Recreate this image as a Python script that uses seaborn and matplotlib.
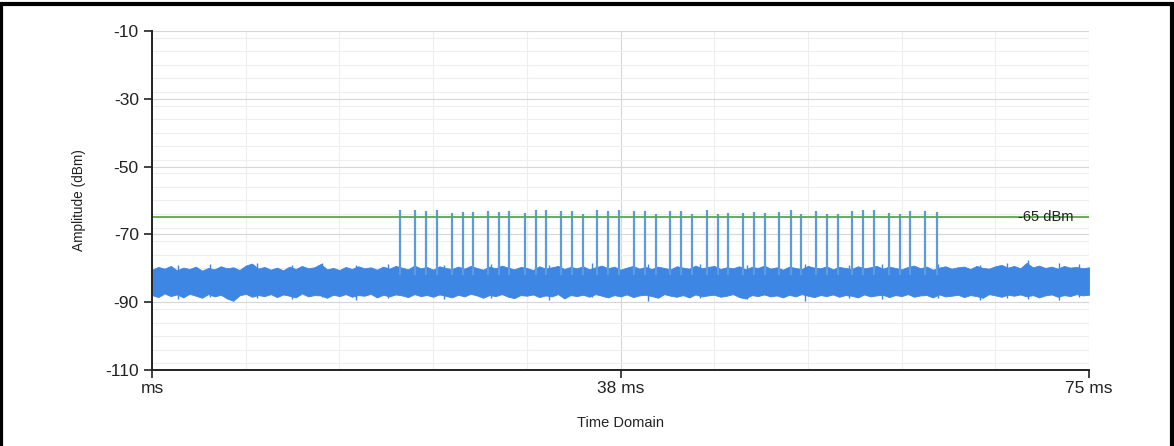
import numpy as np
import pandas as pd
import matplotlib
matplotlib.use('Agg')
import matplotlib.pyplot as plt
from matplotlib.ticker import MultipleLocator
import seaborn as sns

# noise envelope (dBm), read every 0.5 ms from 0 to 75 ms
noise_hi = [-80.4, -79.6, -80.1, -79.3, -80.6, -79.8, -80.2, -79.5, -80.7, -79.9,
            -80.3, -79.4, -80.0, -79.7, -80.5, -79.2, -78.6, -80.1, -79.6, -80.4,
            -79.8, -80.6, -79.5, -80.2, -79.3, -80.0, -79.7, -78.7, -80.3, -79.9,
            -80.5, -79.6, -80.2, -79.4, -80.0, -79.7, -80.4, -79.5, -80.1, -79.3,
            -79.8, -80.3, -79.2, -80.0, -79.6, -80.4, -79.4, -79.9, -80.2, -79.5,
            -80.1, -79.3, -79.9, -80.4, -79.5, -80.0, -79.2, -79.8, -80.3, -79.6,
            -79.9, -80.5, -79.4, -80.1, -79.7, -79.3, -80.2, -79.6, -80.0, -79.4,
            -80.3, -79.7, -79.2, -80.0, -79.5, -80.4, -79.8, -79.3, -80.1, -79.6,
            -80.2, -79.5, -79.9, -80.3, -79.4, -79.8, -80.1, -79.2, -80.0, -79.6,
            -79.3, -80.2, -79.7, -80.0, -79.4, -80.3, -79.6, -79.9, -79.2, -80.1,
            -79.7, -80.4, -79.5, -79.9, -80.2, -79.3, -79.8, -80.0, -79.4, -80.3,
            -79.6, -79.9, -80.2, -79.4, -80.0, -79.7, -79.3, -80.1, -79.5, -79.9,
            -80.3, -79.6, -79.2, -80.0, -79.5, -80.4, -79.8, -79.4, -80.1, -79.7,
            -79.5, -80.2, -79.3, -79.9, -80.1, -79.4, -79.0, -79.8, -79.3, -80.0,
            -78.4, -79.7, -79.2, -79.9, -79.5, -80.1, -79.3, -79.8, -79.6, -80.0,
            -79.7]
noise_lo = [-87.9, -88.5, -87.4, -88.2, -87.7, -88.6, -87.5, -88.1, -88.7, -87.6,
            -88.3, -87.8, -88.9, -89.6, -88.0, -87.5, -88.4, -87.9, -88.2, -87.6,
            -88.5, -87.7, -88.1, -88.6, -87.4, -88.3, -87.9, -88.0, -88.7, -87.8,
            -88.2, -87.6, -88.4, -87.9, -88.1, -87.5, -88.6, -87.8, -88.3, -87.7,
            -88.0, -88.5, -87.6, -88.2, -87.9, -88.4, -87.7, -88.1, -88.6, -87.8,
            -88.3, -87.5, -88.0, -88.7, -87.9, -88.2, -87.6, -88.4, -88.8, -87.9,
            -88.1, -87.7, -88.5, -88.0, -88.3, -87.6, -88.9, -87.9, -88.2, -87.8,
            -88.4, -87.6, -88.1, -88.6, -87.9, -88.3, -87.7, -88.5, -88.0, -87.8,
            -88.2, -88.7, -87.6, -88.1, -88.4, -87.9, -88.6, -87.7, -88.3, -88.0,
            -87.8, -88.4, -88.1, -87.6, -88.5, -88.9, -87.9, -88.2, -87.7, -88.3,
            -88.0, -88.6, -87.8, -88.3, -87.6, -88.1, -88.5, -87.9, -88.2, -87.7,
            -88.4, -87.9, -88.1, -88.6, -87.7, -88.3, -88.0, -87.8, -88.5, -87.9,
            -88.2, -87.6, -88.4, -88.0, -87.9, -88.6, -87.7, -88.3, -88.1, -87.8,
            -88.5, -87.9, -88.2, -88.7, -87.6, -88.0, -88.4, -87.8, -88.1, -87.7,
            -88.3, -87.9, -88.6, -88.0, -87.7, -88.4, -87.9, -88.2, -87.6, -88.0,
            -87.8]

# isolated noise excursions (ms, low dBm, high dBm)
exc_t = [2.1, 4.6, 8.4, 11.2, 13.6, 16.3, 18.9, 23.4, 27.1, 31.8, 35.2,
         39.7, 43.9, 47.6, 52.3, 55.8, 58.4, 62.9, 66.3, 68.4, 70.1, 72.6, 74.2]
exc_lo = [-89.0, -88.6, -88.8, -89.2, -88.5, -89.4, -88.7, -89.1, -88.9,
          -89.3, -88.6, -89.5, -88.8, -89.0, -89.6, -88.7, -89.2, -88.9, -89.4,
          -88.8, -89.1, -89.3, -88.6]
exc_hi = [-79.0, -78.8, -78.3, -78.9, -78.3, -79.1, -78.6, -78.9, -78.7,
          -79.0, -78.5, -78.8, -78.6, -79.0, -78.7, -78.9, -78.8, -78.6, -78.9,
          -78.5, -77.6, -78.4, -78.8]

# burst pulses (ms) and their peak level (dBm)
pulse_t = [19.85, 21.05, 21.93, 22.79, 23.99, 24.87, 25.72, 26.87, 27.77, 28.60,
           29.82, 30.71, 31.54, 32.71, 33.59, 34.47, 35.64, 36.52, 37.38, 38.58,
           39.48, 40.34, 41.46, 42.34, 43.20, 44.40, 45.28, 46.13, 47.33, 48.21,
           49.06, 50.16, 51.12, 51.95, 53.12, 54.00, 54.88, 56.05, 56.93, 57.79,
           58.96, 59.84, 60.67, 61.87, 62.81]
pulse_top = [-62.9, -62.7, -63.2, -62.9, -63.7, -63.5, -63.5, -63.0, -63.5, -63.2,
             -63.7, -62.9, -62.9, -63.2, -63.0, -63.9, -62.7, -63.2, -62.7, -63.0,
             -63.0, -63.9, -63.0, -63.2, -64.1, -62.7, -64.0, -63.7, -63.7, -63.5,
             -63.7, -63.5, -62.7, -64.1, -63.2, -63.9, -63.9, -63.2, -62.9, -62.7,
             -63.7, -63.9, -63.2, -63.2, -63.5]
pulse_base = -82.0

threshold = -65
threshold_label = '-65 dBm'
x_ticks = [0, 37.5, 75]
x_labels = ['ms', '38 ms', '75 ms']
y_ticks = [-110, -90, -70, -50, -30, -10]

sns.set_theme(style='white')
plt.rcParams['font.family'] = ['Liberation Sans', 'DejaVu Sans']
plt.rcParams['axes.unicode_minus'] = False

noise_t = np.linspace(0, 75, len(noise_hi))

fig = plt.figure(figsize=(11.74, 4.46), dpi=100)
ax = fig.add_axes([0.1295, 0.1704, 0.7981, 0.7601])

# background grid
ax.xaxis.set_minor_locator(MultipleLocator(7.5))
ax.yaxis.set_minor_locator(MultipleLocator(4))
ax.grid(which='minor', color='#eeeeee', linewidth=0.8)
ax.grid(which='major', color='#d6d6d6', linewidth=0.8)
ax.set_axisbelow(True)

noise_color = '#3d86e4'
ax.fill_between(noise_t, noise_lo, noise_hi, color=noise_color, linewidth=0.6,
                edgecolor=noise_color)
ax.vlines(exc_t, exc_lo, exc_hi, color=noise_color, linewidth=1.0)
ax.vlines(pulse_t, pulse_base, pulse_top, color='#5b9be0', linewidth=1.6)

ref = pd.DataFrame({'t': [0, 75], 'v': [threshold, threshold]})
sns.lineplot(data=ref, x='t', y='v', color='#5aa845', linewidth=1.3, ax=ax)
ax.text(69.3, threshold, threshold_label, fontsize=10.5, va='center', ha='left',
        color='#222222')

ax.set_xlim(0, 75)
ax.set_ylim(-110, -10)
ax.set_xticks(x_ticks)
ax.set_xticklabels(x_labels)
ax.set_yticks(y_ticks)
ax.tick_params(axis='both', which='major', labelsize=12.5, length=6, width=1.2,
               direction='out', color='#222222', labelcolor='#222222',
               bottom=True, left=True)
ax.tick_params(axis='x', pad=2)
ax.tick_params(which='minor', length=0)

for side in ['top', 'right']:
    ax.spines[side].set_visible(False)
for side in ['left', 'bottom']:
    ax.spines[side].set_color('#222222')
    ax.spines[side].set_linewidth(1.4)

ax.set_xlabel('Time Domain', fontsize=10.5, color='#222222', labelpad=14)
ax.set_ylabel('Amplitude (dBm)', fontsize=9.8, color='#222222', labelpad=14)

# outer frame of the picture
fig.patches.append(plt.Rectangle((0.001, -0.01), 0.997, 1.0, transform=fig.transFigure,
                                 fill=False, edgecolor='black', linewidth=3))

fig.savefig('out.png', dpi=100)
